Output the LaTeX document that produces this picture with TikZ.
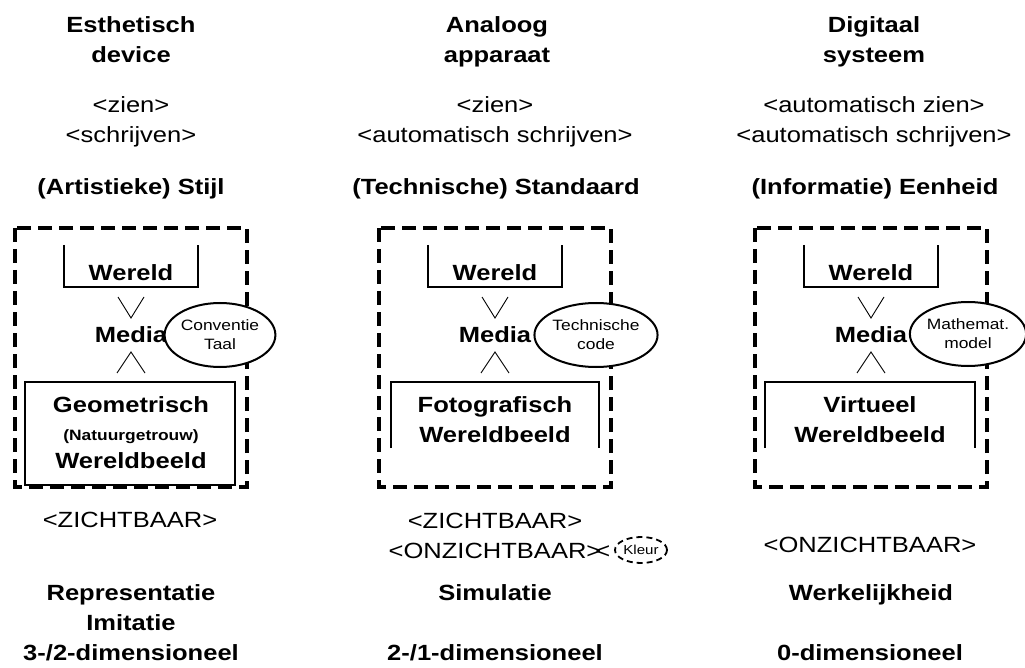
\documentclass[tikz,border=0pt]{standalone}
\usepackage{fontspec}
\setmainfont{Liberation Sans}[FakeStretch=1.16]
\usetikzlibrary{positioning,shapes.geometric}

\begin{document}
\begin{tikzpicture}[
  x=1pt, y=-1pt,
  txt/.style={inner sep=0pt, text depth=0pt, align=center, font=\fontsize{22}{30}\selectfont},
  bold/.style={txt, font=\fontsize{22}{30}\selectfont\bfseries},
  dashbox/.style={draw, line width=3.2pt, dash pattern=on 14pt off 7pt},
  bracket/.style={draw, line width=1.3pt},
  oval/.style={ellipse, draw, line width=2pt, fill=white, inner sep=0pt, align=center, text depth=0pt, minimum height=64pt, font=\fontsize{15}{19}\selectfont},
]
  \useasboundingbox (0,0) rectangle (1025,668);

  % headings
  \node[bold] (dev)  at (131,40) {Esthetisch\\device};
  \node[bold] (app)  at (497,40) {Analoog\\apparaat};
  \node[bold] (sys)  at (874,40) {Digitaal\\systeem};

  \node[txt] (act1) at (131,120) {<zien>\\<schrijven>};
  \node[txt] (act2) at (495,120) {<zien>\\<automatisch schrijven>};
  \node[txt] (act3) at (874,120) {<automatisch zien>\\<automatisch schrijven>};

  \node[bold] (stijl)     at (131,187) {(Artistieke) Stijl};
  \node[bold] (standaard) at (496,187) {(Technische) Standaard};
  \node[bold] (eenheid)   at (875,187) {(Informatie) Eenheid};

  % the three frames
  \foreach \cx/\nm in {131/a, 495/b, 871/c} {
    \path[dashbox] (\cx-116,228) rectangle (\cx+116,487);
    \path[bracket] (\cx-67,245) |- (\cx+67,287) -- (\cx+67,245);
    \node[bold] (wereld\nm) at (\cx,273) {Wereld};
    \node[bold] (media\nm) at (\cx,335) {Media};
    \draw[line width=0.9pt] (\cx-13,297) -- (\cx,318) -- (\cx+13,297);
    \draw[line width=0.9pt] (\cx-14,373) -- (\cx,352) -- (\cx+14,373);
  }

  \node[oval, minimum width=94pt]  (taal)  at (220,335) {Conventie\\Taal};
  \node[oval, minimum width=108pt] (code)  at (596,335) {Technische\\code};
  \node[oval, minimum width=112pt] (model) at (968,334) {Mathemat.\\model};

  % world pictures
  \path[bracket] (25,382) rectangle (235,485);
  \node[bold, font=\fontsize{22}{28}\selectfont\bfseries] (geo) at (131,433)
    {Geometrisch\\{\fontsize{15}{28}\selectfont(Natuurgetrouw)}\\Wereldbeeld};
  \path[bracket] (391,448) |- (599,382) -- (599,448);
  \node[bold] (foto) at (495,420) {Fotografisch\\Wereldbeeld};
  \path[bracket] (765,448) |- (975,382) -- (975,448);
  \node[bold] (virt) at (870,420) {Virtueel\\Wereldbeeld};

  % bottom rows
  \node[txt] (zicht1) at (130,520) {<ZICHTBAAR>};
  \node[txt] (zicht2) at (495,536) {<ZICHTBAAR>\\<ONZICHTBAAR>\rlap{\kern-6pt<}};
  \node[oval, line width=1.8pt, dash pattern=on 6pt off 4pt, minimum width=52pt, minimum height=26pt, font=\fontsize{13}{15}\selectfont] (kleur) at (641,550) {Kleur};
  \node[txt] (zicht3) at (870,545) {<ONZICHTBAAR>};

  \node[bold] (repr) at (131,623) {Representatie\\Imitatie\\3-/2-dimensioneel};
  \node[bold] (sim)  at (495,593) {Simulatie};
  \node[bold] (werk) at (871,593) {Werkelijkheid};
  \node[bold] (dim2) at (495,653) {2-/1-dimensioneel};
  \node[bold] (dim0) at (870,653) {0-dimensioneel};
\end{tikzpicture}
\end{document}
